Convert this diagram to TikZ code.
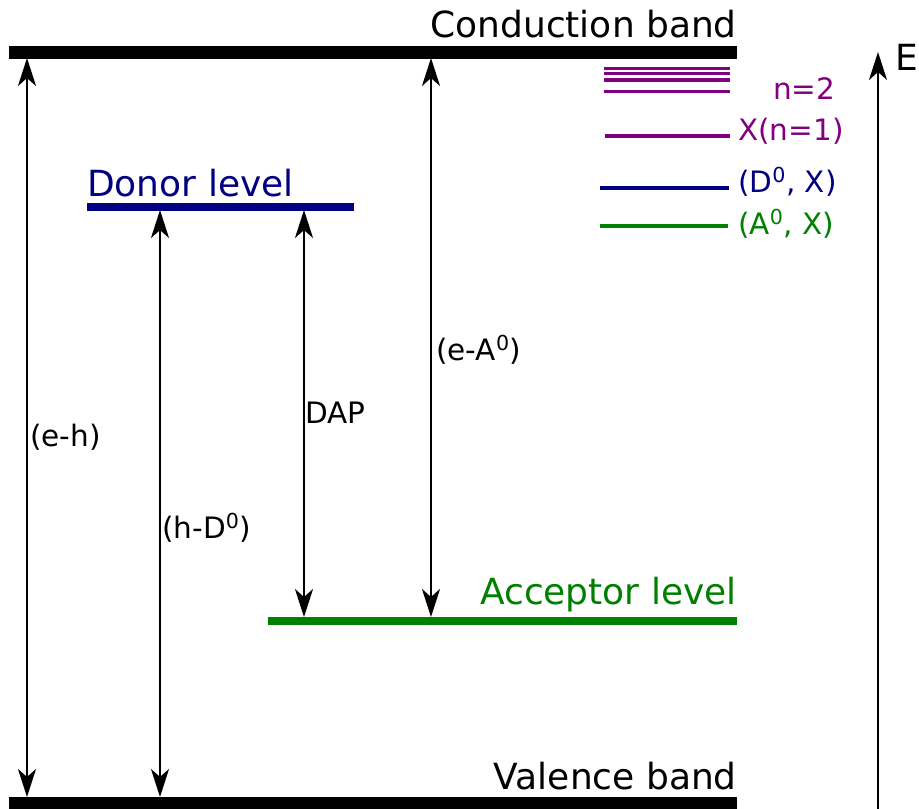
\documentclass[tikz,border=0pt]{standalone}
\usepackage{fontspec}
\setmainfont{DejaVu Sans}
\usetikzlibrary{arrows.meta}
\definecolor{dnavy}{RGB}{0,0,128}
\definecolor{dgreen}{RGB}{0,128,0}
\definecolor{dpurple}{RGB}{128,0,128}
\tikzset{
  big/.style={inner sep=0pt, font=\fontsize{36}{36}\selectfont},
  small/.style={inner sep=0pt, font=\fontsize{29.5}{29.5}\selectfont},
  band/.style={line width=12.5pt},
  level/.style={line width=7.5pt},
  exline/.style={line width=3.3pt},
  trans/.style={line width=2.6pt, {Stealth[length=28pt,width=18pt,inset=8pt]}-{Stealth[length=28pt,width=18pt,inset=8pt]}},
  axis/.style={line width=2.6pt, -{Stealth[length=28pt,width=18pt,inset=8pt]}}
}
\begin{document}
\begin{tikzpicture}[x=1pt,y=-1pt]
\useasboundingbox (0,0) rectangle (919,809);
% bands
\coordinate (cbL) at (9,52.5);
\coordinate (cbR) at (737,52.5);
\coordinate (vbL) at (9,803.5);
\coordinate (vbR) at (737,803.5);
\draw[band] (cbL) -- (cbR);
\draw[band] (vbL) -- (vbR);
\coordinate (dL) at (87,207);
\coordinate (dR) at (354,207);
\draw[level,dnavy] (dL) -- (dR);
\coordinate (aL) at (268,621);
\coordinate (aR) at (737,621);
\draw[level,dgreen] (aL) -- (aR);
% labels
\node[big,anchor=base east] (cbt) at (737,37) {Conduction band};
\node[big,anchor=base east] (vbt) at (737,789) {Valence band};
\node[big,anchor=base west,text=dnavy] (dt) at (87,196) {Donor level};
\node[big,anchor=base east,text=dgreen] (at) at (737,604) {Acceptor level};
% transitions
\coordinate (ehT) at (27,58); \coordinate (ehB) at (27,797);
\coordinate (hdT) at (160,210); \coordinate (hdB) at (160,797);
\coordinate (dapT) at (304,210); \coordinate (dapB) at (304,617);
\coordinate (eaT) at (431,58); \coordinate (eaB) at (431,617);
\draw[trans] (ehT) -- (ehB);
\draw[trans] (hdT) -- (hdB);
\draw[trans] (dapT) -- (dapB);
\draw[trans] (eaT) -- (eaB);
\node[small,anchor=base west] (eh) at (30,446) {(e-h)};
\node[small,anchor=base west] (hd) at (162,538) {(h-D\textsuperscript{0})};
\node[small,anchor=base west] (dap) at (305,423) {DAP};
\node[small,anchor=base west] (ea) at (436,360) {(e-A\textsuperscript{0})};
% excitons
\foreach \yy/\nm in {68.3/a,73.3/b,80/c,91.7/d}{
  \coordinate (n2L\nm) at (604,\yy); \coordinate (n2R\nm) at (730,\yy);
  \draw[exline,dpurple] (n2L\nm) -- (n2R\nm);
}
\coordinate (x1L) at (605,136); \coordinate (x1R) at (730,136);
\draw[exline,dpurple] (x1L) -- (x1R);
\coordinate (dxL) at (600,188); \coordinate (dxR) at (729,188);
\draw[exline,dnavy] (dxL) -- (dxR);
\coordinate (axL) at (600,226); \coordinate (axR) at (728,226);
\draw[exline,dgreen] (axL) -- (axR);
\node[small,anchor=base west,text=dpurple] (n2t) at (773,99) {n=2};
\node[small,anchor=base west,text=dpurple] (x1t) at (738,140) {X(n=1)};
\node[small,anchor=base west,text=dnavy] (dxt) at (738,192) {(D\textsuperscript{0}, X)};
\node[small,anchor=base west,text=dgreen] (axt) at (738,234) {(A\textsuperscript{0}, X)};
% energy axis
\coordinate (eB) at (878,812);
\coordinate (eT) at (878,52);
\draw[axis] (eB) -- (eT);
\node[big,anchor=base west] (E) at (895,70) {E};
\end{tikzpicture}
\end{document}
